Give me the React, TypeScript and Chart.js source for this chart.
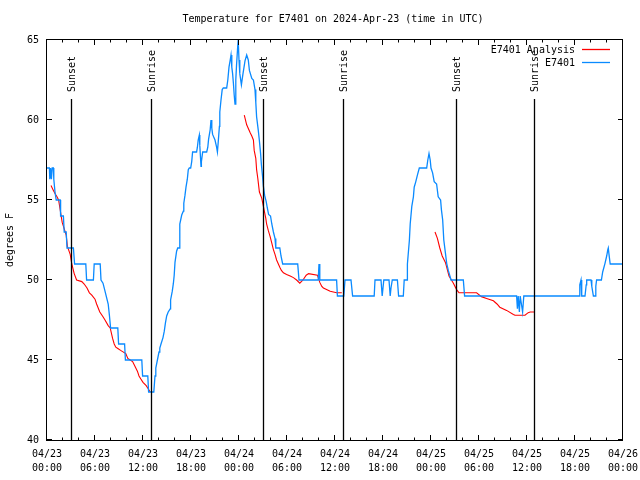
import React, { useEffect, useRef } from 'react';
import { Chart, registerables } from 'chart.js';

Chart.register(...registerables);

const FONT = '"DejaVu Sans Mono", "Liberation Mono", monospace';
const TITLE = 'Temperature for E7401 on 2024-Apr-23 (time in UTC)';
const Y_TITLE = 'degrees F';

const X_TICK_DATES = ['04/23', '04/23', '04/23', '04/23', '04/24', '04/24', '04/24', '04/24', '04/25', '04/25', '04/25', '04/25', '04/26'];
const X_TICK_TIMES = ['00:00', '06:00', '12:00', '18:00', '00:00', '06:00', '12:00', '18:00', '00:00', '06:00', '12:00', '18:00', '00:00'];
const X_MIN = 0;
const X_MAX = 72;
const Y_MIN = 40;
const Y_MAX = 65;

const EVENT_HOURS = [3, 13, 27.05, 37.05, 51.1, 60.9];
const EVENT_LABELS = ['Sunset', 'Sunrise', 'Sunset', 'Sunrise', 'Sunset', 'Sunrise'];

const SERIES_NAMES = ['E7401 Analysis', 'E7401'];
const SERIES_COLORS = ['#ff0000', '#0a8aff'];

// Observations (hours since 04/23 00:00 UTC, degrees F)
const OBS_HOURS = [
  0, 0.3, 0.35, 0.45, 0.55, 0.65, 0.8, 0.85, 1.0, 1.15, 1.65, 1.7, 2.05, 2.15, 2.4, 2.5, 3.3, 3.45, 4.85, 4.95,
  5.8, 5.9, 6.65, 6.75, 7.0, 7.25, 7.65, 7.8, 7.95, 8.85, 8.95, 9.7, 9.8, 11.85, 11.95, 12.6, 12.7, 13.35, 13.5, 13.6,
  13.8, 14.0, 14.1, 14.25, 14.5, 14.66, 14.8, 14.96, 15.15, 15.4, 15.45, 15.66, 15.8, 15.9, 16.0, 16.2, 16.34, 16.54, 16.6, 16.84,
  17.04, 17.1, 17.25, 17.375, 17.54, 17.66, 17.79, 17.96, 18.09, 18.2, 18.7, 18.8, 18.9, 19.04, 19.1, 19.25, 19.3, 19.46, 19.96, 20.1,
  20.2, 20.4, 20.5, 20.6, 20.7, 21.0, 21.2, 21.3, 21.4, 21.55, 21.6, 21.75, 21.9, 22.04, 22.46, 22.6, 22.75, 22.9, 23.0, 23.1,
  23.2, 23.3, 23.4, 23.5, 23.6, 23.7, 23.84, 23.9, 24.0, 24.1, 24.3, 24.5, 24.75, 24.96, 25.16, 25.3, 25.6, 25.8, 26.0, 26.1,
  26.2, 26.4, 26.54, 26.7, 26.8, 26.94, 27.04, 27.2, 27.4, 27.54, 27.7, 27.94, 28.1, 28.3, 28.5, 28.6, 29.1, 29.25, 29.46, 31.34,
  31.5, 33.9, 34.0, 34.1, 36.2, 36.3, 37.1, 37.25, 38.0, 38.2, 40.9, 41.0, 41.75, 41.9, 42.1, 42.75, 42.9, 43.0, 43.16, 43.8,
  43.95, 44.54, 44.65, 45.0, 45.05, 45.3, 45.4, 45.6, 45.8, 45.9, 46.1, 46.3, 46.54, 47.46, 47.6, 47.75, 47.9, 48.0, 48.2, 48.4,
  48.7, 48.9, 49.2, 49.3, 49.46, 49.6, 49.8, 49.96, 50.16, 50.4, 50.5, 52.04, 52.2, 58.7, 58.8, 58.9, 59.05, 59.15, 59.3, 59.45,
  59.6, 66.5, 66.6, 66.75, 66.84, 67.25, 67.4, 67.46, 68.0, 68.1, 68.3, 68.5, 68.6, 68.7, 69.3, 69.46, 69.75, 69.96, 70.1, 70.16,
  70.25, 70.4, 72,
];
const OBS_TEMPS = [
  57, 57, 56.3, 57, 56.3, 57, 57, 56.3, 55.5, 55, 55, 54, 54, 53, 53, 52, 52, 51, 51, 50,
  50, 51, 51, 50, 49.8, 49.3, 48.5, 47.8, 47, 47, 46, 46, 45, 45, 44, 44, 43, 43, 44, 44.5,
  45, 45.5, 45.75, 46, 46.4, 46.8, 47.3, 47.75, 48, 48.2, 48.75, 49.3, 49.8, 50.3, 51.1, 51.8, 52, 52, 53.5, 54.06,
  54.3, 54.8, 55.3, 55.8, 56.3, 56.9, 57, 57, 57.4, 58, 58, 58.3, 58.75, 59.06, 58.4, 57.1, 57.4, 58, 58, 58.3,
  58.8, 59.4, 60, 59.5, 59.1, 58.75, 58.3, 58, 58.6, 59.6, 60.5, 61.25, 61.9, 62, 62, 62.5, 63.3, 63.75, 64.06, 63.3,
  62.9, 62.3, 61.56, 61, 62.5, 63.5, 64.6, 65, 63.75, 62.9, 62.2, 62.9, 63.7, 64.06, 63.75, 63.1, 62.6, 62.5, 61.9, 61.1,
  60.2, 59.4, 58.75, 57.9, 57.2, 56.5, 55.9, 55.3, 54.9, 54.5, 54.1, 54, 53.5, 53, 52.6, 52, 52, 51.5, 51, 51,
  50, 50, 51, 50, 50, 49, 49, 50, 50, 49, 49, 50, 50, 49, 50, 50, 49, 49.5, 50, 50,
  49, 49, 50, 50, 51, 52.5, 53.5, 54.6, 55.2, 55.8, 56.15, 56.56, 57, 57, 57.5, 57.9, 57.5, 57, 56.7, 56.15,
  56, 55.2, 55, 54.4, 53.75, 52.5, 51.7, 51.04, 50.6, 50.2, 50, 50, 49, 49, 48.2, 49, 48, 49, 48.5, 48,
  49, 49, 49.7, 50, 49, 49, 49.7, 50, 50, 49.6, 49, 49, 49.6, 50, 50, 50.5, 51.04, 51.5, 51.9, 52,
  51.6, 51, 51,
];

// Analysis (null = gap between runs)
const ANA_HOURS = [
  0.5, 0.8, 1.0, 1.25, 1.45, 1.9, 2.4, 2.55, 2.9, 3.1, 3.4, 3.7, 4.35, 4.65, 5.0, 5.3, 5.6, 6.0, 6.2, 6.6,
  7.0, 7.25, 7.65, 7.9, 8.2, 8.4, 8.6, 8.9, 9.2, 9.85, 10.1, 10.4, 10.7, 10.9, 11.1, 11.3, 11.5, 11.75, 12.0, 12.4,
  12.65, 12.9, 18.0,
  24.66, 24.96, 25.4, 25.6, 25.8, 25.9, 26.1, 26.2, 26.35, 26.55, 26.85, 27.05, 27.35, 27.45, 27.66, 27.9, 28.1, 28.3, 28.5, 28.7,
  29.1, 29.3, 29.55, 29.95, 30.4, 30.8, 31.2, 31.6, 32.0, 32.4, 32.7, 33.8, 34.1, 34.35, 34.55, 35.4, 36.2, 36.85, 42.0,
  48.5, 48.8, 49.1, 49.4, 49.8, 49.96, 50.25, 50.8, 51.2, 51.5, 53.7, 54.3, 54.95, 55.8, 56.25, 56.6, 57.45, 58.3, 58.5, 59.75,
  60.15, 60.4, 60.9,
];
const ANA_TEMPS = [
  55.9, 55.6, 55.4, 55.2, 55.0, 53.6, 52.8, 52.1, 51.6, 51.0, 50.4, 50.0, 49.9, 49.75, 49.5, 49.2, 49.06, 48.8, 48.5, 48.0,
  47.7, 47.5, 47.15, 47.0, 46.35, 46.0, 45.8, 45.7, 45.6, 45.4, 45.1, 45.0, 44.9, 44.7, 44.5, 44.3, 44.0, 43.8, 43.6, 43.4,
  43.2, 43.0, null,
  60.3, 59.7, 59.2, 59.0, 58.75, 58.1, 57.6, 56.9, 56.35, 55.5, 55.1, 54.6, 53.85, 53.5, 53.1, 52.7, 52.3, 51.9, 51.6, 51.25,
  50.8, 50.6, 50.45, 50.35, 50.25, 50.15, 50.0, 49.8, 50.0, 50.3, 50.4, 50.3, 49.85, 49.6, 49.5, 49.3, 49.2, 49.2, null,
  53.0, 52.6, 52.0, 51.5, 51.1, 50.8, 50.25, 49.8, 49.4, 49.2, 49.2, 48.96, 48.85, 48.7, 48.5, 48.3, 48.1, 47.85, 47.8, 47.8,
  47.96, 48.0, 48.0,
];

const overlayPlugin = {
  id: 'gnuplotOverlay',
  afterDatasetsDraw(chart: any) {
    const ctx = chart.ctx as CanvasRenderingContext2D;
    const { left, right, top, bottom } = chart.chartArea;
    const xs = chart.scales.x;
    const ys = chart.scales.y;
    ctx.save();
    ctx.font = '10px ' + FONT;
    ctx.fillStyle = '#000';
    ctx.strokeStyle = '#000';

    // sunrise / sunset markers
    ctx.lineWidth = 1.3;
    EVENT_HOURS.forEach((h, i) => {
      const px = Math.round(xs.getPixelForValue(h)) + 0.5;
      ctx.beginPath();
      ctx.moveTo(px, top + 59);
      ctx.lineTo(px, bottom);
      ctx.stroke();
      ctx.save();
      ctx.translate(px + 1, top + 52);
      ctx.rotate(-Math.PI / 2);
      ctx.textAlign = 'left';
      ctx.textBaseline = 'middle';
      ctx.fillText(EVENT_LABELS[i], 0, 0);
      ctx.restore();
    });

    // frame
    ctx.lineWidth = 1;
    ctx.strokeRect(left - 0.5, top - 0.5, right - left, bottom - top + 1);

    // ticks (inward, mirrored)
    ctx.beginPath();
    for (let h = X_MIN; h <= X_MAX; h += 2) {
      const px = Math.round(xs.getPixelForValue(h)) - 0.5;
      const len = h % 6 === 0 ? 5 : 2.5;
      ctx.moveTo(px, bottom);
      ctx.lineTo(px, bottom - len);
      ctx.moveTo(px, top);
      ctx.lineTo(px, top + len);
    }
    for (let v = Y_MIN; v <= Y_MAX; v += 5) {
      const py = Math.round(ys.getPixelForValue(v)) - 0.5;
      ctx.moveTo(left, py);
      ctx.lineTo(left + 5, py);
      ctx.moveTo(right, py);
      ctx.lineTo(right - 5, py);
    }
    ctx.stroke();

    // title
    ctx.textAlign = 'center';
    ctx.textBaseline = 'middle';
    ctx.fillText(TITLE, 333, 19);

    // y axis title
    ctx.save();
    ctx.translate(10, (top + bottom) / 2);
    ctx.rotate(-Math.PI / 2);
    ctx.textAlign = 'center';
    ctx.textBaseline = 'middle';
    ctx.fillText(Y_TITLE, 0, 0);
    ctx.restore();

    // legend
    ctx.textAlign = 'right';
    ctx.textBaseline = 'middle';
    SERIES_NAMES.forEach((name, i) => {
      const y = top + 10 + i * 13;
      ctx.fillStyle = '#000';
      ctx.fillText(name, right - 48, y);
      ctx.strokeStyle = SERIES_COLORS[i];
      ctx.lineWidth = 1.3;
      ctx.beginPath();
      ctx.moveTo(right - 41, y - 0.5);
      ctx.lineTo(right - 13, y - 0.5);
      ctx.stroke();
    });
    ctx.restore();
  },
};

export default function App() {
  const canvasRef = useRef<HTMLCanvasElement | null>(null);

  useEffect(() => {
    if (!canvasRef.current) return;
    const obs = OBS_HOURS.map((h, i) => ({ x: h, y: OBS_TEMPS[i] }));
    const ana = ANA_HOURS.map((h, i) => ({ x: h, y: ANA_TEMPS[i] }));
    const chart = new Chart(canvasRef.current, {
      type: 'line',
      data: {
        datasets: [
          {
            label: SERIES_NAMES[1],
            data: obs as any,
            borderColor: SERIES_COLORS[1],
            borderWidth: 1.3,
            pointRadius: 0,
            tension: 0,
            fill: false,
          },
          {
            label: SERIES_NAMES[0],
            data: ana as any,
            borderColor: SERIES_COLORS[0],
            borderWidth: 1.1,
            pointRadius: 0,
            tension: 0,
            fill: false,
            spanGaps: false,
          },
        ],
      },
      options: {
        animation: false,
        responsive: false,
        devicePixelRatio: 1,
        layout: { padding: { top: 40, right: 17, left: 0, bottom: 0 } },
        plugins: {
          legend: { display: false },
          title: { display: false },
          tooltip: { enabled: false },
        },
        scales: {
          x: {
            type: 'linear',
            min: X_MIN,
            max: X_MAX,
            grid: { display: false, drawTicks: false },
            border: { display: false },
            ticks: {
              stepSize: 6,
              autoSkip: false,
              maxRotation: 0,
              minRotation: 0,
              padding: 7,
              color: '#000',
              font: { family: FONT, size: 10, lineHeight: 1.4 },
              callback: (v: any) => {
                const i = Math.round(Number(v) / 6);
                return [X_TICK_DATES[i], X_TICK_TIMES[i]];
              },
            },
            afterFit: (s: any) => {
              s.height = 40;
              s.paddingLeft = 0;
              s.paddingRight = 0;
            },
          },
          y: {
            min: Y_MIN,
            max: Y_MAX,
            grid: { display: false, drawTicks: false },
            border: { display: false },
            ticks: {
              stepSize: 5,
              padding: 8,
              color: '#000',
              font: { family: FONT, size: 10 },
            },
            afterFit: (s: any) => {
              s.width = 47;
              s.paddingTop = 0;
              s.paddingBottom = 0;
            },
          },
        },
      },
      plugins: [overlayPlugin],
    });
    return () => chart.destroy();
  }, []);

  return (
    <div style={{ position: 'absolute', left: 0, top: 0, width: 640, height: 480, background: '#fff' }}>
      <canvas ref={canvasRef} width={640} height={480} style={{ display: 'block' }} />
    </div>
  );
}
